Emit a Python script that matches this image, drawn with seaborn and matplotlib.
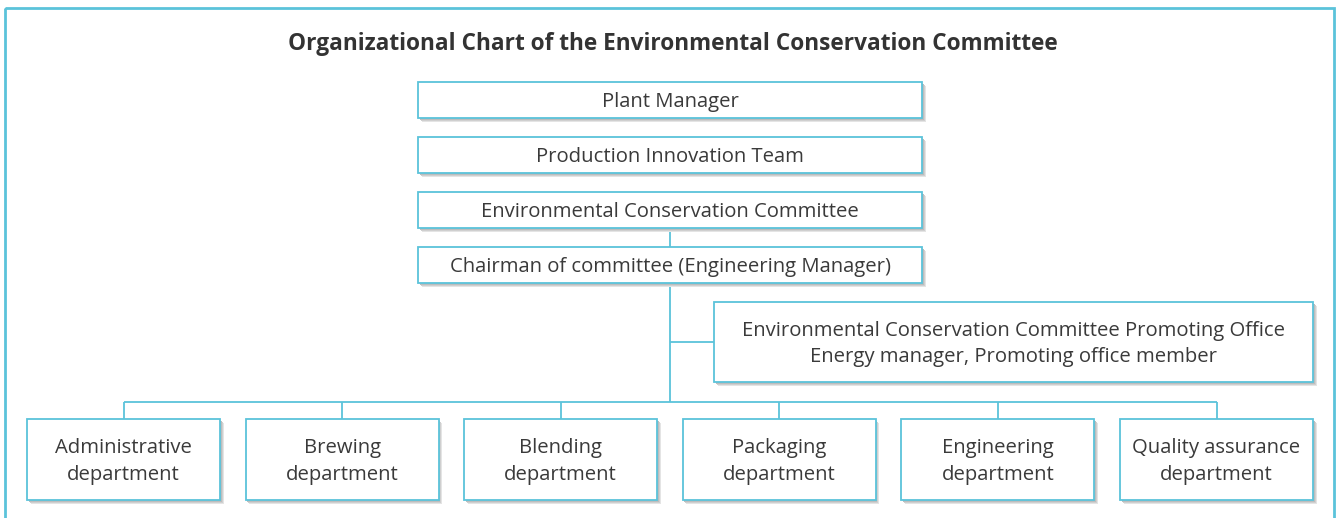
import seaborn as sns
import matplotlib.pyplot as plt
from matplotlib.patches import Rectangle

sns.set_theme(style="white")
plt.rcParams['font.family'] = ['Open Sans', 'DejaVu Sans']

# Chart content
title = "Organizational Chart of the Environmental Conservation Committee"
chain = ["Plant Manager",
         "Production Innovation Team",
         "Environmental Conservation Committee",
         "Chairman of committee (Engineering Manager)"]
office = ("Environmental Conservation Committee Promoting Office\n"
          "Energy manager, Promoting office member")
departments = ["Administrative\ndepartment", "Brewing\ndepartment",
               "Blending\ndepartment", "Packaging\ndepartment",
               "Engineering\ndepartment", "Quality assurance\ndepartment"]

# Style
line_col = "#5bc3da"
text_col = "#3a3a3a"

fig = plt.figure(figsize=(13.37, 5.18), dpi=100)
ax = fig.add_axes([0, 0, 1, 1])
ax.set_xlim(0, 1337)
ax.set_ylim(518, 0)
ax.axis('off')


def box(x0, y0, w, h, label, fs=14.6):
    # soft drop shadow
    for off, col in [(3.5, '#e4e4e4'), (2.5, '#cfcfcf'), (1.5, '#bdbdbd')]:
        ax.add_patch(Rectangle((x0 + off, y0 + off), w, h, facecolor=col,
                               edgecolor='none', zorder=1))
    ax.add_patch(Rectangle((x0, y0), w, h, facecolor='white',
                           edgecolor=line_col, lw=1.3, zorder=2))
    ax.text(x0 + w / 2, y0 + h / 2 + 2, label, ha='center', va='center',
            fontsize=fs, color=text_col, linespacing=1.45, zorder=3)


def line(xs, ys):
    ax.plot(xs, ys, color=line_col, lw=1.3, zorder=0.5, solid_capstyle='butt')


# outer frame
ax.add_patch(Rectangle((5, 8), 1329, 530, facecolor='none',
                       edgecolor=line_col, lw=2, zorder=0))

ax.text(673, 44, title, ha='center', va='center', fontsize=16.3,
        fontweight='bold', color='#333333')

# management chain
cx = 670
for i, lab in enumerate(chain):
    box(418, 82 + i * 55, 504, 36, lab)
line([cx, cx], [228, 247])
line([cx, cx], [283, 402])

# promoting office
box(714, 302, 599, 80, office)
line([cx, 714], [342, 342])

# departments
dw, dstep = 193, 218.6
centers = [27 + i * dstep + dw / 2 for i in range(len(departments))]
line([centers[0], centers[-1]], [402, 402])
for c, lab in zip(centers, departments):
    line([c, c], [402, 419])
    box(c - dw / 2, 419, dw, 81, lab)

fig.savefig("out.png", dpi=100)
